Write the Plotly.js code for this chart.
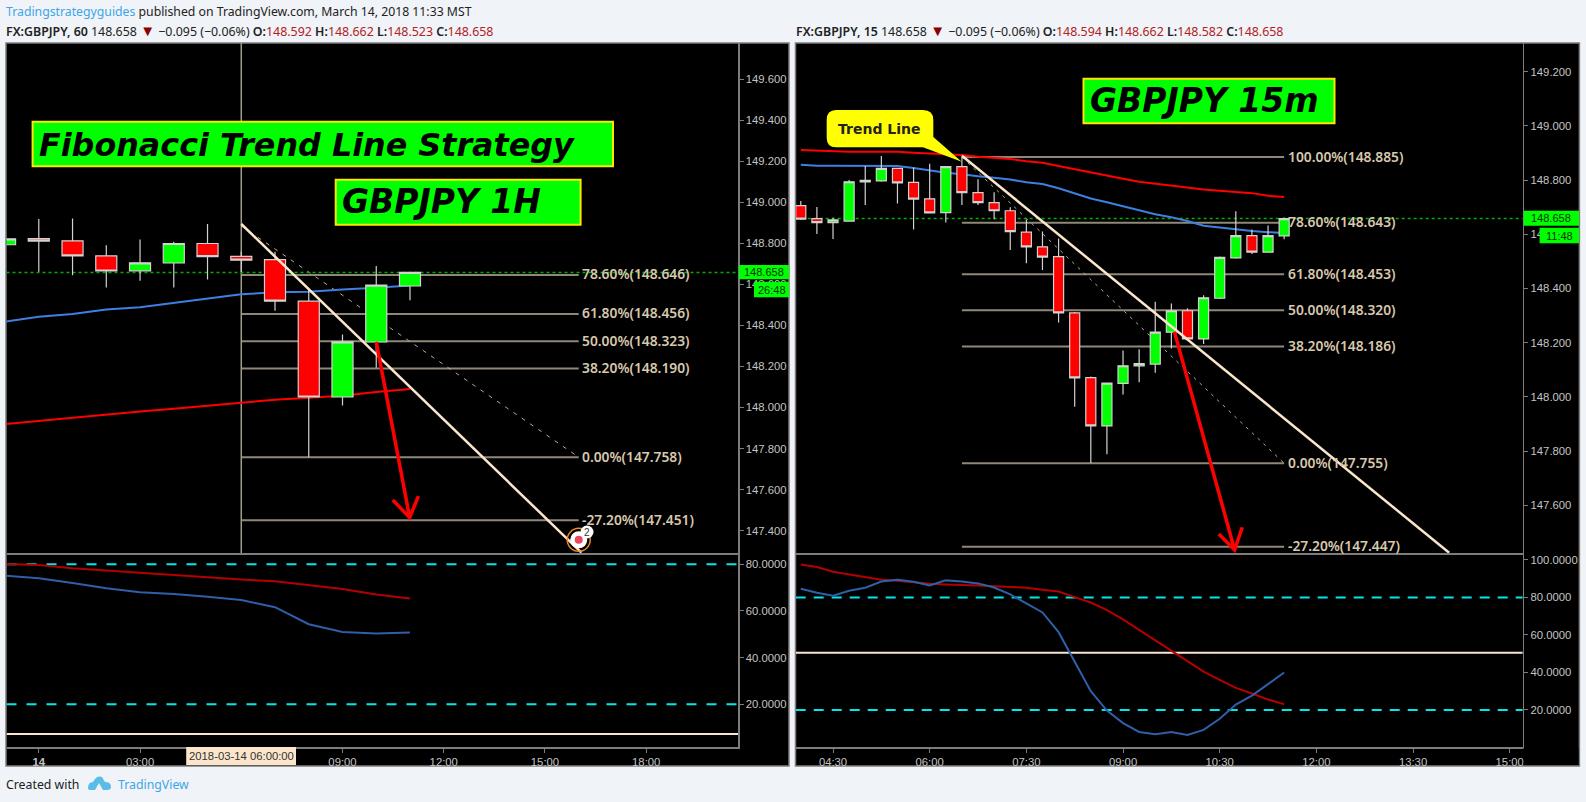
<!DOCTYPE html>
<html>
<head>
<meta charset="utf-8">
<script src="https://cdn.plot.ly/plotly-3.0.1.min.js"></script>
<style>html,body{margin:0;padding:0;background:#f0f3f7;overflow:hidden}#chart{width:1586px;height:802px}</style>
</head>
<body>
<div id="chart"></div>
<script>
// ---------- data: 1H chart (x = hours on 2018-03-14) ----------
const h1Time  = [-1, 0, 1, 2, 3, 4, 5, 6, 7, 8, 9, 10, 11];
const h1Open  = [148.793,148.823,148.812,148.739,148.666,148.704,148.799,148.736,148.720,148.518,148.051,148.319,148.592];
const h1High  = [148.825,148.918,148.921,148.791,148.819,148.808,148.894,148.760,148.759,148.572,148.356,148.689,148.662];
const h1Low   = [148.790,148.661,148.644,148.585,148.618,148.585,148.624,148.660,148.471,147.757,148.010,148.194,148.523];
const h1Close = [148.822,148.811,148.739,148.665,148.705,148.799,148.735,148.718,148.518,148.051,148.320,148.596,148.658];
const h1MaBlue = [148.418,148.442,148.455,148.478,148.488,148.510,148.531,148.552,148.561,148.564,148.575,148.583,148.595];
const h1MaRed  = [147.919,147.935,147.952,147.966,147.981,147.994,148.007,148.023,148.038,148.047,148.057,148.075,148.090];
const h1OscRed  = [80.1,79.7,78.3,77.3,76.6,75.3,74.4,73.5,72.7,71.0,69.4,67.1,65.3];
const h1OscBlue = [75.1,74.0,72.0,69.7,68.0,67.3,66.1,64.7,61.6,54.3,51.0,50.3,50.8];
const h1FibPct = ['78.60%','61.80%','50.00%','38.20%','0.00%','-27.20%'];
const h1FibVal = [148.646,148.456,148.323,148.190,147.758,147.451];
const h1FibSpan = [6, 16];
const h1TrendX = [6, 16.08];
const h1TrendY = [148.894, 147.293];
const h1DashX = [6, 16];
const h1DashY = [148.885, 147.758];
const h1ArrowX = [10, 10.99, null, 10.49, 10.99, 11.25];
const h1ArrowY = [148.320, 147.464, null, 147.549, 147.464, 147.568];
const h1Cursor = 6;
const h1Range = [-0.957, 20.72];
const h1PriceRange = [147.291, 149.776];
const h1PriceTicks = [147.4,147.6,147.8,148.0,148.2,148.4,148.6,148.8,149.0,149.2,149.4,149.6];
const h1OscRange = [1.7, 84.84];
const h1OscTicks = [20,40,60,80];
const h1OscMid = 7.27;
const h1TickVals = [0,3,6,9,12,15,18];
const h1TickText = ['<b>14</b>','03:00','','09:00','12:00','15:00','18:00'];
const h1Pin = {x:16, y:147.355};

// ---------- data: 15m chart ----------
const m15Time = [4,4.25,4.5,4.75,5,5.25,5.5,5.75,6,6.25,6.5,6.75,7,7.25,7.5,7.75,8,8.25,8.5,8.75,9,9.25,9.5,9.75,10,10.25,10.5,10.75,11,11.25,11.5];
const m15Open  = [148.706,148.658,148.643,148.649,148.793,148.797,148.843,148.792,148.731,148.680,148.850,148.754,148.717,148.687,148.608,148.554,148.518,148.310,148.071,147.893,148.050,148.114,148.121,148.239,148.318,148.214,148.364,148.513,148.595,148.534,148.594];
const m15High  = [148.723,148.701,148.661,148.800,148.852,148.889,148.845,148.847,148.860,148.852,148.885,148.803,148.755,148.700,148.655,148.610,148.585,148.313,148.075,148.052,148.171,148.176,148.351,148.345,148.327,148.375,148.518,148.685,148.618,148.633,148.662];
const m15Low   = [148.653,148.601,148.583,148.647,148.708,148.794,148.714,148.618,148.677,148.644,148.708,148.708,148.656,148.542,148.493,148.468,148.275,147.964,147.756,147.788,148.009,148.054,148.089,148.179,148.213,148.195,148.361,148.510,148.527,148.532,148.582];
const m15Close = [148.656,148.643,148.653,148.794,148.799,148.843,148.790,148.730,148.679,148.850,148.754,148.717,148.687,148.610,148.554,148.516,148.310,148.070,147.893,148.051,148.115,148.123,148.239,148.318,148.214,148.366,148.515,148.595,148.534,148.595,148.658];
const m15MaRed  = [148.911,148.909,148.906,148.905,148.905,148.905,148.905,148.901,148.898,148.895,148.893,148.886,148.883,148.878,148.870,148.864,148.852,148.840,148.827,148.816,148.805,148.794,148.787,148.780,148.772,148.765,148.761,148.756,148.752,148.742,148.738];
const m15MaBlue = [148.857,148.853,148.853,148.853,148.853,148.853,148.852,148.845,148.836,148.827,148.822,148.814,148.809,148.802,148.792,148.786,148.770,148.750,148.732,148.718,148.704,148.688,148.674,148.663,148.649,148.632,148.625,148.618,148.612,148.608,148.605];
const m15OscRed  = [97.6,96.2,93.7,92.3,91.2,89.4,88.9,88.0,87.3,86.9,86.8,86.4,86.0,85.7,85.2,84.1,83.2,80.2,77.3,73.2,68.3,62.7,57.2,51.5,46.0,40.5,36.1,31.8,28.8,25.6,23.1];
const m15OscBlue = [84.6,82.5,80.9,83.6,85.2,88.5,89.4,88.4,86.4,89.1,88.5,87.5,85.3,81.6,76.8,72.0,61.5,45.5,30.0,19.7,13.0,8.3,7.1,8.3,6.7,9.4,15.3,22.9,27.7,33.8,40.0];
const m15FibPct = ['100.00%','78.60%','61.80%','50.00%','38.20%','0.00%','-27.20%'];
const m15FibVal = [148.885,148.643,148.453,148.320,148.186,147.755,147.447];
const m15FibSpan = [6.5, 11.5];
const m15TrendX = [6.5, 14.06];
const m15TrendY = [148.89, 147.425];
const m15DashX = [6.5, 11.5];
const m15DashY = [148.885, 147.755];
const m15ArrowX = [9.797, 10.731, null, 10.486, 10.731, 10.85];
const m15ArrowY = [148.241, 147.435, null, 147.494, 147.435, 147.519];
const m15Range = [3.921, 15.203];
const m15PriceRange = [147.424, 149.306];
const m15PriceTicks = [147.6,147.8,148.0,148.2,148.4,148.6,148.8,149.0,149.2];
const m15OscRange = [0.27, 103.7];
const m15OscTicks = [20,40,60,80,100];
const m15OscMid = 50.5;
const m15TickVals = [4.5,6,7.5,9,10.5,12,13.5,15];
const m15TickText = ['04:30','06:00','07:30','09:00','10:30','12:00','13:30','15:00'];

const lastPrice = 148.658;
const oscBands = [80, 20];

// ---------- styling ----------
const W = 1586, H = 802;
const X = p => p / W, Y = p => 1 - p / H;
const FONT = 'Liberation Sans, Arial, sans-serif';
const NOTO = 'Noto Sans, Liberation Sans, sans-serif';
const DEJA = 'DejaVu Sans, Verdana, sans-serif';
const AXIS = '#7d7d7d', TICK = '#c4c4c4', CREAM = '#fbe6cc', FIB = '#8f8778', FIBTXT = '#d8c8ae';
const GREEN = '#00ff00', RED = '#ff0000', BLUE = '#3f7fe0', CYAN = '#00e8e8';

function line(x, y, xa, ya, color, width, dash) {
  return {type:'scatter', mode:'lines', x, y, xaxis:xa, yaxis:ya, hoverinfo:'skip',
          line:{color, width, dash:dash||'solid'}, connectgaps:false};
}
function candles(x, o, h, l, c, xa, ya) {
  const side = col => ({line:{color:'#d2d2d2', width:1.2}, fillcolor:col});
  return {type:'candlestick', x, open:o, high:h, low:l, close:c, xaxis:xa, yaxis:ya,
          increasing:side(GREEN), decreasing:side(RED), hoverinfo:'skip'};
}
function fibLines(vals, span, xa, ya) {
  const xs = [], ys = [];
  vals.forEach(v => { xs.push(span[0], span[1], null); ys.push(v, v, null); });
  return line(xs, ys, xa, ya, FIB, 2);
}

const traces = [
  // 1H background layer
  fibLines(h1FibVal, h1FibSpan, 'x', 'y'),
  line([h1Cursor, h1Cursor], h1PriceRange, 'x', 'y', '#a39c8e', 1.5),
  line(h1DashX, h1DashY, 'x', 'y', '#b5ab9a', 1, '4px,6px'),
  line(h1Range, [lastPrice, lastPrice], 'x', 'y', '#00b000', 1.5, 'dot'),
  line(h1Time, h1MaBlue, 'x', 'y', BLUE, 2),
  line(h1Time, h1MaRed, 'x', 'y', RED, 2),
  // 1H foreground layer
  candles(h1Time, h1Open, h1High, h1Low, h1Close, 'x', 'y5'),
  line(h1TrendX, h1TrendY, 'x', 'y5', CREAM, 2.5),
  line(h1ArrowX, h1ArrowY, 'x', 'y5', RED, 3.5),
  {type:'scatter', mode:'markers', x:[h1Pin.x], y:[h1Pin.y], xaxis:'x', yaxis:'y5', hoverinfo:'skip', cliponaxis:false,
   marker:{size:23, color:'rgba(0,0,0,0)', line:{color:'#f08a24', width:1.5}}},
  {type:'scatter', mode:'markers', x:[h1Pin.x], y:[h1Pin.y], xaxis:'x', yaxis:'y5', hoverinfo:'skip', cliponaxis:false,
   marker:{size:17, color:'#ffffff'}},
  {type:'scatter', mode:'markers', x:[h1Pin.x], y:[h1Pin.y], xaxis:'x', yaxis:'y5', hoverinfo:'skip', cliponaxis:false,
   marker:{size:8, color:'#e8475f'}},
  // 1H oscillator
  line(h1Range, [oscBands[0], oscBands[0]], 'x2', 'y2', CYAN, 2, '10px,10px'),
  line(h1Range, [oscBands[1], oscBands[1]], 'x2', 'y2', CYAN, 2, '10px,10px'),
  line(h1Range, [h1OscMid, h1OscMid], 'x2', 'y2', CREAM, 2),
  line(h1Time, h1OscRed, 'x2', 'y2', '#b40000', 2),
  line(h1Time, h1OscBlue, 'x2', 'y2', '#2f5fa8', 2),
  // 15m background layer
  fibLines(m15FibVal, m15FibSpan, 'x3', 'y3'),
  line(m15DashX, m15DashY, 'x3', 'y3', '#b5ab9a', 1, '3px,5px'),
  line(m15Range, [lastPrice, lastPrice], 'x3', 'y3', '#00b000', 1.5, 'dot'),
  line(m15Time, m15MaBlue, 'x3', 'y3', BLUE, 2),
  line(m15Time, m15MaRed, 'x3', 'y3', RED, 2),
  // 15m foreground layer
  candles(m15Time, m15Open, m15High, m15Low, m15Close, 'x3', 'y6'),
  line(m15TrendX, m15TrendY, 'x3', 'y6', CREAM, 2.5),
  line(m15ArrowX, m15ArrowY, 'x3', 'y6', RED, 3.5),
  // 15m oscillator
  line(m15Range, [oscBands[0], oscBands[0]], 'x4', 'y4', CYAN, 2, '10px,8px'),
  line(m15Range, [oscBands[1], oscBands[1]], 'x4', 'y4', CYAN, 2, '10px,8px'),
  line(m15Range, [m15OscMid, m15OscMid], 'x4', 'y4', CREAM, 2),
  line(m15Time, m15OscRed, 'x4', 'y4', '#b40000', 2),
  line(m15Time, m15OscBlue, 'x4', 'y4', '#2f5fa8', 2),
];

// ---------- axes ----------
const tickFont = {family:FONT, size:11.3, color:TICK};
function xAxis(range, dom, anchor, vals, text) {
  const a = {domain:dom, range, anchor, type:'linear', showgrid:false, zeroline:false, fixedrange:true,
             showline:true, linecolor:AXIS, linewidth:1.5, tickfont:tickFont, rangeslider:{visible:false}};
  if (vals) Object.assign(a, {tickmode:'array', tickvals:vals, ticktext:text, ticks:'outside', ticklen:4, tickcolor:AXIS});
  else Object.assign(a, {showticklabels:false, ticks:''});
  return a;
}
function yAxis(range, dom, anchor, vals, fmt) {
  return {domain:dom, range, anchor, side:'right', showgrid:false, zeroline:false, fixedrange:true,
          showline:true, linecolor:AXIS, linewidth:1.5, tickmode:'array', tickvals:vals, tickformat:fmt,
          ticks:'outside', ticklen:4, tickcolor:AXIS, tickfont:tickFont};
}
const domMain = [Y(553), Y(43)], domOsc = [Y(747), Y(553)];
const domL = [X(6.5), X(738)], domR = [X(795.7), X(1522.8)];

// ---------- decorations ----------
const rect = (x0, y0, x1, y1, fill, lc, lw, layer) => ({type:'rect', xref:'paper', yref:'paper',
  x0:X(x0), x1:X(x1), y0:Y(y0), y1:Y(y1), fillcolor:fill, line:{color:lc||fill, width:lw===undefined?0:lw}, layer:layer||'above'});
const pt = (x, y) => X(x).toFixed(5) + ',' + Y(y).toFixed(5);
const calloutPath = 'M' + pt(836,110) + ' L' + pt(923,110) + ' Q' + pt(933.3,110) + ' ' + pt(933.3,120)
  + ' L' + pt(933.3,137) + ' L' + pt(961.7,161.7) + ' L' + pt(923,147.3) + ' L' + pt(836,147.3)
  + ' Q' + pt(826.7,147.3) + ' ' + pt(826.7,138) + ' L' + pt(826.7,120) + ' Q' + pt(826.7,110) + ' ' + pt(836,110) + ' Z';
const logoPath = 'M' + pt(88,788) + ' Q' + pt(88,782) + ' ' + pt(93,782) + ' Q' + pt(97,775) + ' ' + pt(102,777)
  + ' L' + pt(105,782) + ' Q' + pt(111,782) + ' ' + pt(111,787) + ' Q' + pt(111,790) + ' ' + pt(107,790)
  + ' L' + pt(103,790) + ' L' + pt(99,783) + ' L' + pt(95,790) + ' L' + pt(91,790) + ' Q' + pt(88,790) + ' ' + pt(88,788) + ' Z';

const shapes = [
  rect(6, 43, 789, 766, '#000000', AXIS, 1.5, 'below'),
  rect(795.5, 43, 1579.4, 766, '#000000', AXIS, 1.5, 'below'),
  rect(32.6, 121.7, 613, 166.3, GREEN, '#ffe600', 2),
  rect(335.7, 179.7, 580.6, 224.7, GREEN, '#ffe600', 2),
  rect(1083.5, 78.7, 1334.5, 123.3, GREEN, '#ffe600', 2),
  {type:'path', xref:'paper', yref:'paper', path:calloutPath, fillcolor:'#ffff00', line:{width:0}, layer:'above'},
  rect(738.8, 265, 789, 279.3, GREEN),
  rect(754, 281.7, 789, 297.3, GREEN),
  rect(1523.6, 210.7, 1579, 225.7, GREEN),
  rect(1539.6, 227.7, 1579, 243.3, GREEN),
  rect(186.2, 747, 296, 765, '#fbe6cc'),
  rect(1523.6, 748, 1578.5, 765, '#000000'),
  {type:'path', xref:'paper', yref:'paper', path:logoPath, fillcolor:'#5bbce8', line:{width:0}, layer:'above'},
  {type:'circle', xref:'paper', yref:'paper', x0:X(580.5), x1:X(593.5), y0:Y(525.5), y1:Y(538.5), fillcolor:'#ffffff', line:{width:0}, layer:'above'},
];

function txt(x, y, text, size, color, extra) {
  return Object.assign({xref:'paper', yref:'paper', x:X(x), y:Y(y), text, showarrow:false, xanchor:'left', yanchor:'middle',
    font:{family:NOTO, size, color}, borderpad:0, borderwidth:0}, extra||{});
}
const up = (s) => '<span style="color:#b22222;font-weight:400">' + s + '</span>';
const head = (tf, o, h, l, c) => 'FX:GBPJPY, ' + tf + ' <span style="font-weight:400">148.658</span> <span style="color:#8b0000;font-size:15px">▼</span> <span style="font-weight:400">−0.095 (−0.06%)</span> O:' + up(o) + ' H:' + up(h) + ' L:' + up(l) + ' C:' + up(c);

function fibLabels(pct, val, xa, ya, xEnd, shift) {
  return pct.map((p, i) => ({xref:xa, yref:ya, x:xEnd, y:val[i], xanchor:'left', yanchor:'middle', xshift:shift, yshift:1,
    text:p + '(' + val[i].toFixed(3) + ')', showarrow:false, font:{family:NOTO, size:13.8, color:FIBTXT, weight:600}}));
}
const titleFont = size => ({family:DEJA, size, color:'#000000', weight:700, style:'italic'});
const headFont = {family:NOTO, size:12.4, color:'#222222', weight:600};
const boxFont = {family:FONT, size:11, color:'#003300'};

const annotations = [
  txt(6, 12, '<span style="color:#3ea6e8">Tradingstrategyguides</span> published on TradingView.com, March 14, 2018 11:33 MST', 12.25, '#222222'),
  txt(6, 30, head('60','148.592','148.662','148.523','148.658'), 12, '#222222', {font:headFont}),
  txt(795.7, 30, head('15','148.594','148.662','148.582','148.658'), 12, '#222222', {font:headFont}),
  txt(6, 784, 'Created with', 12.3, '#222222'),
  txt(118, 784, 'TradingView', 12.3, '#3ea6e8'),
  txt(39, 144, 'Fibonacci Trend Line Strategy', 31.8, '#000', {font:titleFont(31.8)}),
  txt(342, 202, 'GBPJPY 1H', 33, '#000', {font:titleFont(33)}),
  txt(1090, 101, 'GBPJPY 15m', 33, '#000', {font:titleFont(33)}),
  txt(838, 128.5, 'Trend Line', 14, '#222', {font:{family:DEJA,size:14,color:'#222222',weight:700}}),
  txt(763.5, 272, '148.658', 11, '#003300', {xanchor:'center', font:boxFont}),
  txt(771.5, 289.5, '26:48', 11, '#003300', {xanchor:'center', font:boxFont}),
  txt(1551, 218, '148.658', 11, '#003300', {xanchor:'center', font:boxFont}),
  txt(1559, 235.5, '11:48', 11, '#003300', {xanchor:'center', font:boxFont}),
  txt(241, 756, '2018-03-14 06:00:00', 11, '#333333', {xanchor:'center', font:{family:FONT,size:11.3,color:'#333333'}}),
  txt(587, 532, '2', 10, '#333333', {xanchor:'center', font:{family:FONT,size:10,color:'#333333'}}),
  ...fibLabels(h1FibPct, h1FibVal, 'x', 'y', h1FibSpan[1], 1),
  ...fibLabels(m15FibPct, m15FibVal, 'x3', 'y3', m15FibSpan[1], 2),
];

const layout = {
  width:W, height:H, margin:{l:0,r:0,t:0,b:0}, autosize:false, showlegend:false, hovermode:false,
  paper_bgcolor:'#f0f3f7', plot_bgcolor:'rgba(0,0,0,0)',
  boxgap:0.21, boxgroupgap:0.21,
  xaxis:  xAxis(h1Range, domL, 'y'),
  yaxis:  yAxis(h1PriceRange, domMain, 'x', h1PriceTicks, '.3f'),
  yaxis5: {range:h1PriceRange, overlaying:'y', anchor:'x', side:'right', visible:false, fixedrange:true},
  xaxis2: xAxis(h1Range, domL, 'y2', h1TickVals, h1TickText),
  yaxis2: yAxis(h1OscRange, domOsc, 'x2', h1OscTicks, '.4f'),
  xaxis3: xAxis(m15Range, domR, 'y3'),
  yaxis3: yAxis(m15PriceRange, domMain, 'x3', m15PriceTicks, '.3f'),
  yaxis6: {range:m15PriceRange, overlaying:'y3', anchor:'x3', side:'right', visible:false, fixedrange:true},
  xaxis4: xAxis(m15Range, domR, 'y4', m15TickVals, m15TickText),
  yaxis4: yAxis(m15OscRange, domOsc, 'x4', m15OscTicks, '.4f'),
  shapes, annotations,
};
Plotly.newPlot('chart', traces, layout, {displayModeBar:false, staticPlot:true});
</script>
</body>
</html>
